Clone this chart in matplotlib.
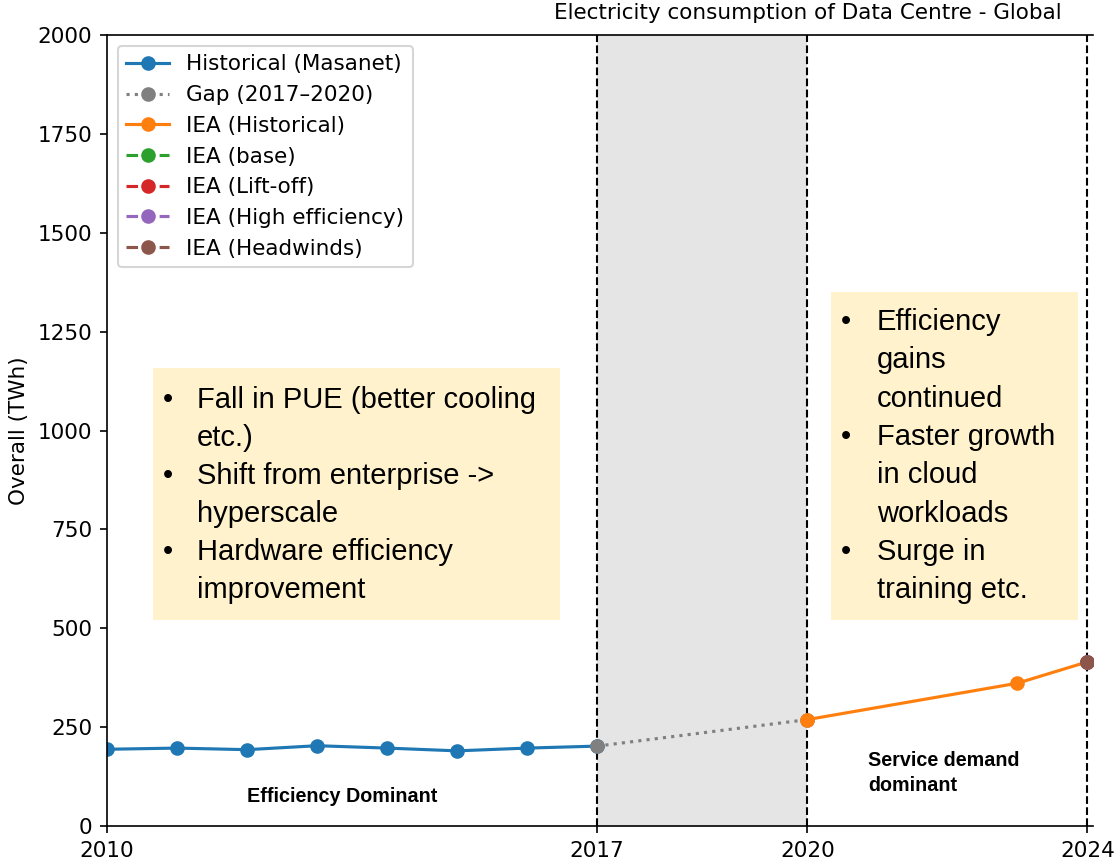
import matplotlib.pyplot as plt
from matplotlib.patches import Rectangle

plt.rcParams["font.family"] = ["DejaVu Sans"]
plt.rcParams["font.size"] = 10.3

# data
masanet_years = [2010, 2011, 2012, 2013, 2014, 2015, 2016, 2017]
masanet_twh = [194, 197, 193, 203, 197, 190, 197, 202]

gap_years = [2017, 2020]
gap_twh = [202, 269]

iea_hist_years = [2020, 2023, 2024]
iea_hist_twh = [269, 361, 415]

scenario_names = ["IEA (base)", "IEA (Lift-off)", "IEA (High efficiency)", "IEA (Headwinds)"]
scenario_colors = ["tab:green", "tab:red", "tab:purple", "tab:brown"]
scenario_years = [2024]
scenario_twh = [415]

x_ticks = [2010, 2017, 2020, 2024]
y_ticks = list(range(0, 2001, 250))

box_left = [
    ["Fall in PUE (better cooling", "etc.)"],
    ["Shift from enterprise ->", "hyperscale"],
    ["Hardware efficiency", "improvement"],
]
box_right = [
    ["Efficiency", "gains", "continued"],
    ["Faster growth", "in cloud", "workloads"],
    ["Surge in", "training etc."],
]

W, H = 1117, 858
fig = plt.figure(figsize=(W / 150, H / 150), dpi=150)
ax = fig.add_axes([107 / W, 1 - 826 / H, (1093 - 107) / W, (826 - 35) / H])


def px(x, y):
    # pixel position -> figure fraction
    return x / W, 1 - y / H


ax.axvspan(2017, 2020, color="gray", alpha=0.2, lw=0)
for yr in [2017, 2020, 2024]:
    ax.axvline(yr, color="black", linestyle="--", linewidth=1)

ax.plot(masanet_years, masanet_twh, "-o", color="tab:blue", label="Historical (Masanet)")
ax.plot(gap_years, gap_twh, ":o", color="gray", label="Gap (2017\u20132020)")
ax.plot(iea_hist_years, iea_hist_twh, "-o", color="tab:orange", label="IEA (Historical)")
for name, col in zip(scenario_names, scenario_colors):
    ax.plot(scenario_years, scenario_twh, "--o", color=col, label=name)

ax.set_xlim(2010, 2024.08)
ax.set_ylim(0, 2000)
ax.set_xticks(x_ticks)
ax.set_yticks(y_ticks)
ax.set_ylabel("Overall (TWh)")
ax.spines["right"].set_visible(False)
ax.legend(loc="upper left")

fx, fy = px(808, 23)
fig.text(fx, fy, "Electricity consumption of Data Centre - Global", ha="center", va="bottom")

# yellow note boxes
box_font = dict(fontsize=14, family=["Liberation Sans", "DejaVu Sans"], color="black")


def note_box(x0, y0, x1, y1, items, bx, tx, ytop, step):
    fig.patches.append(Rectangle(px(x0, y1), (x1 - x0) / W, (y1 - y0) / H,
                                 transform=fig.transFigure, facecolor="#fff2cc",
                                 edgecolor="none", zorder=3))
    y = ytop
    for lines in items:
        fig.text(*px(bx, y), "\u2022", va="center", ha="left", zorder=4, **box_font)
        for ln in lines:
            fig.text(*px(tx, y), ln, va="center", ha="left", zorder=4, **box_font)
            y += step


note_box(153, 368, 560, 620, box_left, 163, 197, 400, 38)
note_box(831, 292, 1078, 620, box_right, 841, 877, 322, 38.3)

narrow = dict(fontsize=9.5, fontweight="bold", family=["Liberation Sans Narrow", "Liberation Sans", "DejaVu Sans"])
fig.text(*px(342, 797), "Efficiency Dominant", ha="center", va="center", **narrow)
fig.text(*px(868, 773), "Service demand\ndominant", ha="left", va="center", linespacing=1.4, **narrow)

fig.savefig("out.png", dpi=150)
